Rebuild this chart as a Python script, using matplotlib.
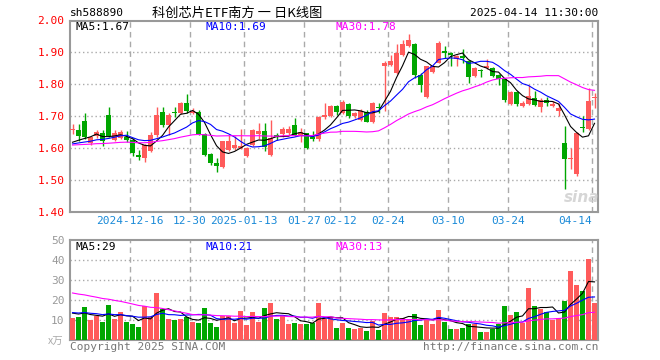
import matplotlib
matplotlib.use('Agg')
import matplotlib.pyplot as plt
import numpy as np

# daily bars 2024-12-02 .. 2025-04-14 (88 trading days)
opens = [1.655, 1.656, 1.684, 1.615, 1.638, 1.648, 1.703, 1.625, 1.630, 1.635,
         1.625, 1.578, 1.568, 1.589, 1.641, 1.711, 1.672, 1.711, 1.708, 1.742,
         1.708, 1.711, 1.644, 1.581, 1.552, 1.540, 1.592, 1.599, 1.600, 1.573,
         1.609, 1.644, 1.653, 1.578, 1.641, 1.644, 1.646, 1.672, 1.641, 1.648,
         1.635, 1.627, 1.698, 1.700, 1.732, 1.708, 1.738, 1.700, 1.687, 1.714,
         1.682, 1.727, 1.858, 1.861, 1.835, 1.893, 1.919, 1.927, 1.830, 1.760,
         1.838, 1.868, 1.903, 1.898, 1.879, 1.887, 1.872, 1.826, 1.845, 1.851,
         1.851, 1.830, 1.816, 1.739, 1.774, 1.730, 1.739, 1.758, 1.728, 1.751,
         1.732, 1.715, 1.614, 1.566, 1.517, 1.666, 1.660, 1.757]
highs = [1.675, 1.675, 1.708, 1.635, 1.656, 1.656, 1.729, 1.656, 1.656, 1.653,
         1.630, 1.594, 1.612, 1.651, 1.729, 1.729, 1.708, 1.727, 1.745, 1.769,
         1.724, 1.719, 1.648, 1.585, 1.567, 1.623, 1.641, 1.637, 1.660, 1.604,
         1.658, 1.677, 1.677, 1.688, 1.648, 1.667, 1.669, 1.693, 1.661, 1.648,
         1.653, 1.700, 1.740, 1.735, 1.735, 1.750, 1.742, 1.714, 1.721, 1.719,
         1.745, 1.740, 1.874, 1.893, 1.927, 1.940, 1.959, 1.929, 1.835, 1.858,
         1.860, 1.935, 1.921, 1.900, 1.893, 1.910, 1.877, 1.854, 1.848, 1.879,
         1.854, 1.833, 1.819, 1.777, 1.777, 1.746, 1.798, 1.777, 1.756, 1.761,
         1.746, 1.741, 1.670, 1.600, 1.649, 1.699, 1.788, 1.772]
lows = [1.645, 1.620, 1.627, 1.610, 1.630, 1.607, 1.635, 1.623, 1.627, 1.617,
        1.573, 1.562, 1.557, 1.586, 1.635, 1.667, 1.641, 1.696, 1.705, 1.708,
        1.706, 1.641, 1.575, 1.547, 1.523, 1.537, 1.589, 1.594, 1.595, 1.571,
        1.606, 1.627, 1.589, 1.575, 1.625, 1.635, 1.641, 1.638, 1.617, 1.596,
        1.623, 1.623, 1.690, 1.698, 1.703, 1.705, 1.695, 1.693, 1.685, 1.682,
        1.679, 1.708, 1.715, 1.858, 1.833, 1.890, 1.917, 1.819, 1.774, 1.755,
        1.835, 1.866, 1.882, 1.858, 1.858, 1.866, 1.805, 1.822, 1.824, 1.848,
        1.824, 1.798, 1.745, 1.735, 1.732, 1.728, 1.735, 1.730, 1.711, 1.732,
        1.728, 1.701, 1.472, 1.534, 1.511, 1.649, 1.657, 1.725]
closes = [1.660, 1.638, 1.635, 1.633, 1.651, 1.620, 1.637, 1.646, 1.651, 1.625,
          1.585, 1.570, 1.609, 1.641, 1.703, 1.672, 1.703, 1.708, 1.742, 1.717,
          1.717, 1.644, 1.578, 1.552, 1.542, 1.620, 1.620, 1.609, 1.605, 1.600,
          1.656, 1.653, 1.604, 1.630, 1.633, 1.658, 1.658, 1.641, 1.651, 1.601,
          1.627, 1.698, 1.703, 1.731, 1.711, 1.745, 1.700, 1.708, 1.717, 1.682,
          1.742, 1.724, 1.866, 1.874, 1.898, 1.927, 1.938, 1.830, 1.798, 1.856,
          1.857, 1.929, 1.898, 1.893, 1.887, 1.882, 1.824, 1.850, 1.842, 1.856,
          1.826, 1.816, 1.750, 1.775, 1.738, 1.741, 1.764, 1.735, 1.751, 1.741,
          1.737, 1.725, 1.564, 1.569, 1.647, 1.663, 1.746, 1.760]
# volume, 万手
volumes = [11.2, 11.7, 16.7, 10, 12, 9.2, 17.5, 10.5, 14, 9.2,
           8.2, 6.7, 17, 11.7, 23.5, 15.5, 10.5, 10, 10.5, 11.3,
           9.2, 8.7, 16, 8.7, 6.7, 12, 12, 8.7, 14.5, 7.5,
           14, 9.2, 16, 18.5, 10.5, 12.5, 8.2, 8.7, 8.2, 8.2,
           8.7, 18.5, 10.5, 11.7, 6.2, 8.7, 6.2, 5.7, 6.2, 4.7,
           9.7, 5.2, 13.7, 11.7, 11.7, 11, 10.7, 13, 7.7, 10.5,
           8.2, 15, 9.2, 5.5, 5.5, 6, 8, 8.2, 4, 4,
           5.5, 8, 17, 12.5, 14, 8.7, 26, 17, 15.5, 14,
           10, 11, 19.5, 34.3, 27.5, 24.5, 40.5, 18.5]

prior_close = 1.607
prior_vol_old = 28.4    # older 20 days
prior_vol_recent = 14.0  # last 9 days before the window

date_labels = ['2024-12-16', '12-30', '2025-01-13', '01-27', '02-12',
               '02-24', '03-10', '03-24', '04-14']
date_idx = [10, 20, 29, 39, 45, 53, 63, 73, 87]
price_ticks = [1.40, 1.50, 1.60, 1.70, 1.80, 1.90, 2.00]
vol_ticks = [10, 20, 30, 40, 50]

o = np.array(opens); h = np.array(highs); l = np.array(lows); c = np.array(closes)
v = np.array(volumes)
n = len(c)
x = np.arange(n)

def ma(series, pre, w):
    ext = np.r_[pre, series]
    out = np.convolve(ext, np.ones(w) / w, mode='valid')
    return out[-len(series):]

def trunc(val, d):
    f = 10 ** d
    return np.floor(val * f + 1e-9) / f

pre_c = np.full(29, prior_close)
pre_v = np.r_[np.full(20, prior_vol_old), np.full(9, prior_vol_recent)]

RED = '#ff5b5b'
GREEN = '#00a600'
GRID = '#aaaaaa'
MONO = 'DejaVu Sans Mono'
CJK = ['Noto Sans CJK SC', 'DejaVu Sans']

fig = plt.figure(figsize=(6.6, 3.6), dpi=100)
W, H = 660.0, 360.0
ax = fig.add_axes([70 / W, 1 - 211.5 / H, 528 / W, 191 / H])
axv = fig.add_axes([70 / W, 1 - 340 / H, 528 / W, 100 / H])

up = c >= o
cols = np.where(up, RED, GREEN)

# candles
ax.vlines(x, l, h, colors=cols, lw=1, zorder=3)
body = np.maximum(np.abs(c - o), 0.003)
ax.bar(x, body, bottom=np.minimum(o, c), width=0.84, color=cols, zorder=4, linewidth=0)
ma5, ma10, ma30 = ma(c, pre_c, 5), ma(c, pre_c, 10), ma(c, pre_c, 30)
ax.plot(x, ma5, color='black', lw=0.8, zorder=5)
ax.plot(x, ma10, color='#0000ff', lw=0.8, zorder=5)
ax.plot(x, ma30, color='#ff00ff', lw=0.8, zorder=5)

# volume
axv.bar(x, v, width=0.84, color=cols, linewidth=0, zorder=3)
vma5, vma10, vma30 = ma(v, pre_v, 5), ma(v, pre_v, 10), ma(v, pre_v, 30)
axv.plot(x, vma5, color='black', lw=0.8, zorder=5)
axv.plot(x, vma10, color='#0000ff', lw=0.8, zorder=5)
axv.plot(x, vma30, color='#ff00ff', lw=0.8, zorder=5)

for a in (ax, axv):
    a.set_xlim(-0.42, n - 0.42)
    for i in date_idx:
        a.axvline(i - 0.42, color=GRID, lw=1, ls=(0, (4, 3)), zorder=1)
    for s in a.spines.values():
        s.set_color('#999999')
        s.set_linewidth(1.5)
    a.tick_params(length=0)

ax.set_ylim(1.40, 2.00)
for t in price_ticks[1:-1]:
    ax.axhline(t, color=GRID, lw=1, ls=(0, (1, 2)), zorder=1)
ax.set_yticks(price_ticks, ['%.2f' % t for t in price_ticks])
ax.tick_params(axis='y', colors='red', labelsize=8, pad=4)
for lab in ax.get_yticklabels():
    lab.set_family(MONO)
ax.set_xticks([i - 0.42 for i in date_idx], date_labels)
ax.tick_params(axis='x', colors='#1a8ad8', labelsize=8, pad=3)
for lab in ax.get_xticklabels():
    lab.set_family(MONO)
ax.get_xticklabels()[-1].set_horizontalalignment('right')

axv.set_ylim(0, 50)
for t in vol_ticks[:-1]:
    axv.axhline(t, color=GRID, lw=1, ls=(0, (1, 2)), zorder=1)
axv.set_yticks(vol_ticks, [str(t) for t in vol_ticks])
axv.tick_params(axis='y', colors='#999999', labelsize=8, pad=4)
for lab in axv.get_yticklabels():
    lab.set_family(MONO)
axv.set_xticks([])

def ftext(px, py, s, **kw):
    kw.setdefault('family', MONO)
    kw.setdefault('fontsize', 8)
    kw.setdefault('va', 'center')
    fig.text(px / W, 1 - py / H, s, **kw)

ftext(70, 13, 'sh588890')
ftext(237, 13, '科创芯片ETF南方 一 日K线图', family=CJK, fontsize=9.5, ha='center')
ftext(598, 13, '2025-04-14 11:30:00', ha='right')

ftext(75, 27, 'MA5:%.2f' % trunc(ma5[-1], 2))
ftext(205, 27, 'MA10:%.2f' % trunc(ma10[-1], 2), color='#0000ff')
ftext(335, 27, 'MA30:%.2f' % trunc(ma30[-1], 2), color='#ff00ff')

ftext(75, 247, 'MA5:%d' % trunc(vma5[-1], 0))
ftext(205, 247, 'MA10:%d' % trunc(vma10[-1], 0), color='#0000ff')
ftext(335, 247, 'MA30:%d' % trunc(vma30[-1], 0), color='#ff00ff')

ftext(63, 342, 'x万', family=CJK, fontsize=7.5, color='#aaaaaa', ha='right')
ftext(70, 347, 'Copyright 2025 SINA.COM', color='#777777')
ftext(598, 347, 'http://finance.sina.com.cn', color='#777777', ha='right')
ftext(582, 197, 'sina', family='DejaVu Sans', fontsize=11, color='#cccccc',
      weight='bold', style='italic', ha='center', alpha=0.8)

fig.savefig('out.png', dpi=100)
